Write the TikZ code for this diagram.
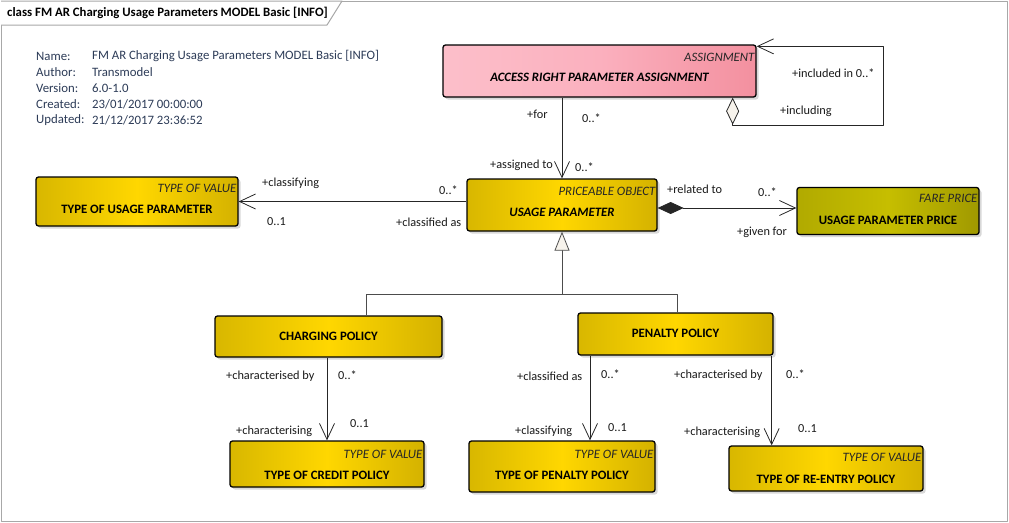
\documentclass[tikz,border=0pt]{standalone}
\usepackage{fontspec}
\setmainfont{Carlito}
\usetikzlibrary{arrows.meta,shadows}
\definecolor{ylwL}{HTML}{D8B700}
\definecolor{ylwM}{HTML}{FFD700}
\definecolor{ylwR}{HTML}{D4B200}
\definecolor{pnkL}{HTML}{FCBFCA}
\definecolor{pnkM}{HTML}{FBB0BE}
\definecolor{pnkR}{HTML}{F3909F}
\definecolor{olvL}{HTML}{B1AA00}
\definecolor{olvM}{HTML}{C6BE00}
\definecolor{olvR}{HTML}{A09900}
\definecolor{infotxt}{HTML}{2C3B57}
\definecolor{hollow}{HTML}{F7F3EC}
\definecolor{framegray}{HTML}{A8A8A8}
\begin{document}
\begin{tikzpicture}[x=1pt,y=-1pt,line join=round,font=\fontsize{12.3}{14}\selectfont]
    \tikzset{box/.style={draw=black,line width=1.3pt,rounded corners=2.5pt,inner sep=0pt,
                drop shadow={shadow xshift=2.5pt,shadow yshift=-2.5pt,fill=black!30,opacity=0.5}},
             ylw/.style={box,left color=ylwL,right color=ylwR,middle color=ylwM},
             pnk/.style={box,left color=pnkL,right color=pnkR,middle color=pnkM},
             olv/.style={box,left color=olvL,right color=olvR,middle color=olvM},
             stereo/.style={anchor=base east,inner sep=0pt,font=\fontsize{12.8}{14}\selectfont\itshape,text=black!85},
             cname/.style={anchor=base,inner sep=0pt,font=\fontsize{12.8}{14}\selectfont\bfseries},
             role/.style={anchor=west,inner sep=0pt,text=black!90},
             info/.style={anchor=west,inner sep=0pt,text=infotxt,font=\fontsize{12.8}{14}\selectfont},
             assoc/.style={draw=black!85,line width=0.8pt,-{Straight Barb[length=16pt,width=15pt,line width=0.8pt]}},
             gen/.style={draw=black!70,line width=0.8pt}}
    \useasboundingbox (0,0) rectangle (1009,522);
    % frame and title tab
    \draw[framegray,line width=1pt] (1,1) rectangle (1007,521);
    \draw[framegray,line width=1pt,fill=white] (1,1) -- (342,1) -- (327,25) -- (1,25);
    \node[anchor=west,inner sep=0pt,font=\fontsize{12.8}{14}\selectfont\bfseries] (title) at (7,13) {class FM AR Charging Usage Parameters MODEL Basic [INFO]};
    % info block
    \node[info] (infoname) at (36,56) {Name:};
    \node[info] (infoauthor) at (36,72) {Author:};
    \node[info] (infoversion) at (36,88) {Version:};
    \node[info] (infocreated) at (36,104) {Created:};
    \node[info] (infoupdated) at (36,120) {Updated:};
    \node[info] (valname) at (92,56) {FM AR Charging Usage Parameters MODEL Basic [INFO]};
    \node[info] (valauthor) at (92,72) {Transmodel};
    \node[info] (valversion) at (92,88) {6.0-1.0};
    \node[info] (valcreated) at (92,104) {23/01/2017 00:00:00};
    \node[info] (valupdated) at (92,120) {21/12/2017 23:36:52};
    % classes
    \node[pnk,minimum width=313pt,minimum height=52pt] (access) at (599.5,71) {};
    \node[stereo] (access-st) at ([xshift=-2pt,yshift=-17pt]access.north east) {ASSIGNMENT};
    \node[cname,font=\fontsize{12.8}{14}\selectfont\bfseries\itshape] (access-nm) at ([yshift=-10pt]access.center) {ACCESS RIGHT PARAMETER ASSIGNMENT};
    \node[ylw,minimum width=190pt,minimum height=52pt] (usage) at (562,205) {};
    \node[stereo] (usage-st) at ([xshift=-2pt,yshift=-17pt]usage.north east) {PRICEABLE OBJECT};
    \node[cname,font=\fontsize{12.8}{14}\selectfont\bfseries\itshape] (usage-nm) at ([yshift=-11pt]usage.center) {USAGE PARAMETER};
    \node[ylw,minimum width=202pt,minimum height=49pt] (typeusage) at (137,201.5) {};
    \node[stereo] (typeusage-st) at ([xshift=-2pt,yshift=-16pt]typeusage.north east) {TYPE OF VALUE};
    \node[cname] (typeusage-nm) at ([yshift=-12pt]typeusage.center) {TYPE OF USAGE PARAMETER};
    \node[olv,minimum width=182pt,minimum height=47pt] (price) at (888,211) {};
    \node[stereo] (price-st) at ([xshift=-2pt,yshift=-16pt]price.north east) {FARE PRICE};
    \node[cname] (price-nm) at ([yshift=-13pt]price.center) {USAGE PARAMETER PRICE};
    \node[ylw,minimum width=227pt,minimum height=41pt] (charging) at (328.5,336.5) {};
    \node[cname] (charging-nm) at ([yshift=-4pt]charging.center) {CHARGING POLICY};
    \node[ylw,minimum width=195pt,minimum height=42pt] (penalty) at (675.5,334) {};
    \node[cname] (penalty-nm) at ([yshift=-3pt]penalty.center) {PENALTY POLICY};
    \node[ylw,minimum width=194pt,minimum height=46pt] (credit) at (327,464) {};
    \node[stereo] (credit-st) at ([xshift=-2pt,yshift=-18pt]credit.north east) {TYPE OF VALUE};
    \node[cname] (credit-nm) at ([yshift=-15pt]credit.center) {TYPE OF CREDIT POLICY};
    \node[ylw,minimum width=186pt,minimum height=51pt] (typepen) at (562,466.5) {};
    \node[stereo] (typepen-st) at ([xshift=-2pt,yshift=-18pt]typepen.north east) {TYPE OF VALUE};
    \node[cname] (typepen-nm) at ([yshift=-13pt]typepen.center) {TYPE OF PENALTY POLICY};
    \node[ylw,minimum width=194pt,minimum height=45pt] (reentry) at (826,468.5) {};
    \node[stereo] (reentry-st) at ([xshift=-2pt,yshift=-16pt]reentry.north east) {TYPE OF VALUE};
    \node[cname] (reentry-nm) at ([yshift=-15pt]reentry.center) {TYPE OF RE-ENTRY POLICY};
    % helper points
    \coordinate (selfcorner) at (883,125);
    \coordinate (genjoin) at (562,294);
    \coordinate (chgen) at ([xshift=38pt]charging.north);
    \coordinate (pengen) at ([xshift=1.5pt]penalty.north);
    \coordinate (penarr) at ([xshift=28pt]typepen.north);
    \coordinate (reentryarr) at ([xshift=-2pt]penalty.south east);
    % associations
    \draw[assoc,{Diamond[length=27pt,width=13pt,fill=hollow,line width=0.8pt]}-{Straight Barb[length=16pt,width=15pt,line width=0.8pt]}]
        ([xshift=-24pt]access.south east) |- (selfcorner) |- ([yshift=-2pt]access.north east);
    \draw[assoc] (access.south -| usage.north) -- (usage.north);
    \draw[assoc] (typeusage.east -| usage.west) -- (typeusage.east);
    \draw[assoc,{Diamond[length=26pt,width=12pt,line width=0.8pt]}-{Straight Barb[length=16pt,width=15pt,line width=0.8pt]}]
        ([yshift=3pt]price.west -| usage.east) -- ([yshift=3pt]price.west);
    \draw[assoc] (charging.south -| credit.north) -- (credit.north);
    \draw[assoc] (penalty.south -| penarr) -- (penarr);
    \draw[assoc] (reentryarr) -- (reentryarr |- reentry.north);
    % generalisation
    \draw[gen,-{Triangle[length=19pt,width=15pt,fill=hollow,line width=0.8pt]}] (chgen) |- (genjoin) -- (usage.south);
    \draw[gen] (pengen) |- (genjoin);
    % role names and multiplicities
    \node[role] (incl-in) at (792,73) {+included in 0..*};
    \node[role] (including) at (780,111) {+including};
    \node[role] (for) at (527,114) {+for};
    \node[role] (for-m) at (582,118) {0..*};
    \node[role] (assigned) at (490,165) {+assigned to};
    \node[role] (assigned-m) at (575,167) {0..*};
    \node[role] (classifying1) at (262,183) {+classifying};
    \node[role] (classifying1-m) at (267,222) {0..1};
    \node[role] (classified1-m) at (439,190) {0..*};
    \node[role] (classified1) at (396,222) {+classified as};
    \node[role] (related) at (667,189) {+related to};
    \node[role] (related-m) at (758,192) {0..*};
    \node[role] (givenfor) at (737,232) {+given for};
    \node[role] (charby1) at (226,376) {+characterised by};
    \node[role] (charby1-m) at (338,375) {0..*};
    \node[role] (charing1) at (236,431) {+characterising};
    \node[role] (charing1-m) at (350,424) {0..1};
    \node[role] (classified2) at (517,376) {+classified as};
    \node[role] (classified2-m) at (601,374) {0..*};
    \node[role] (classifying2) at (515,431) {+classifying};
    \node[role] (classifying2-m) at (608,428) {0..1};
    \node[role] (charby2) at (674,375) {+characterised by};
    \node[role] (charby2-m) at (786,374) {0..*};
    \node[role] (charing2) at (684,432) {+characterising};
    \node[role] (charing2-m) at (798,429) {0..1};
\end{tikzpicture}
\end{document}
